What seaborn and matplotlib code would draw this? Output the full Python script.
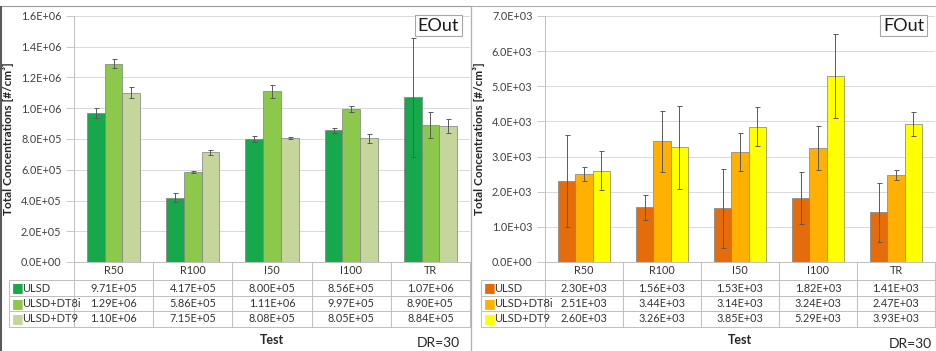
import numpy as np
import pandas as pd
import matplotlib
matplotlib.use("Agg")
import matplotlib.pyplot as plt
import seaborn as sns
from matplotlib.patches import Rectangle

# Data
tests = ["R50", "R100", "I50", "I100", "TR"]
fuels = ["ULSD", "ULSD+DT8i", "ULSD+DT9"]

eout_ulsd = [9.71e5, 4.17e5, 8.00e5, 8.56e5, 1.07e6]
eout_dt8i = [1.29e6, 5.86e5, 1.11e6, 9.97e5, 8.90e5]
eout_dt9 = [1.10e6, 7.15e5, 8.08e5, 8.05e5, 8.84e5]
eout_err_ulsd = [0.32e5, 0.30e5, 0.22e5, 0.18e5, 3.9e5]
eout_err_dt8i = [0.30e5, 0.08e5, 0.42e5, 0.20e5, 0.85e5]
eout_err_dt9 = [0.35e5, 0.16e5, 0.05e5, 0.28e5, 0.45e5]

fout_ulsd = [2.30e3, 1.56e3, 1.53e3, 1.82e3, 1.41e3]
fout_dt8i = [2.51e3, 3.44e3, 3.14e3, 3.24e3, 2.47e3]
fout_dt9 = [2.60e3, 3.26e3, 3.85e3, 5.29e3, 3.93e3]
fout_err_ulsd = [1.30e3, 0.36e3, 1.13e3, 0.75e3, 0.85e3]
fout_err_dt8i = [0.20e3, 0.87e3, 0.54e3, 0.62e3, 0.14e3]
fout_err_dt9 = [0.55e3, 1.17e3, 0.55e3, 1.20e3, 0.34e3]

green_colors = ["#17a84b", "#8cc84b", "#c4d69b"]
orange_colors = ["#e46c0a", "#ffb000", "#ffff00"]

sns.set_theme(style="white")
plt.rcParams["font.family"] = ["Lato", "DejaVu Sans"]

W, H = 937, 351
fig = plt.figure(figsize=(W / 100, H / 100), dpi=100)
TXT = "#333333"
FS = 7.8


def px_axes(x0, y0, x1, y1):
    return fig.add_axes([x0 / W, 1 - y1 / H, (x1 - x0) / W, (y1 - y0) / H])


def draw_panel(ax, values, errors, colors, ymax, ystep, title, label_w):
    df = pd.DataFrame({
        "Test": np.tile(tests, 3),
        "Fuel": np.repeat(fuels, 5),
        "Value": np.concatenate(values),
    })
    sns.barplot(data=df, x="Test", y="Value", hue="Fuel", palette=colors,
                saturation=1, width=0.67, edgecolor="#7f7f7f", linewidth=0.5,
                errorbar=None, legend=False, ax=ax, zorder=2)
    for cont, err in zip(ax.containers, errors):
        xs = [p.get_x() + p.get_width() / 2 for p in cont.patches]
        ys = [p.get_height() for p in cont.patches]
        ax.errorbar(xs, ys, yerr=err, fmt="none", ecolor="#595959",
                    elinewidth=0.7, capsize=1.8, capthick=0.7, zorder=3)

    ax.set_xlim(-0.5, 4.5)
    ax.set_ylim(0, ymax)
    ticks = np.arange(0, ymax + ystep / 2, ystep)
    ax.set_yticks(ticks)
    ax.set_yticklabels(["%.1E" % t for t in ticks], fontsize=FS, color="#404040")
    ax.yaxis.grid(True, color="#d9d9d9", linewidth=0.7, zorder=0)
    ax.set_axisbelow(True)
    ax.tick_params(axis="y", length=6, width=0.6, color="#bfbfbf", pad=3, left=True)
    ax.set_xticks([])
    ax.set_xlabel("")
    ax.set_ylabel("Total Concentrations [#/cm³]", fontsize=8.5, fontweight="bold",
                  labelpad=5, color="#262626")
    for s in ["top", "right", "bottom"]:
        ax.spines[s].set_visible(False)
    ax.spines["left"].set_color("#bfbfbf")
    ax.spines["left"].set_linewidth(0.7)

    ax.text(0.972, 0.993, title, transform=ax.transAxes, ha="right", va="top",
            fontsize=13, zorder=6, color="#1a1a1a",
            bbox=dict(boxstyle="square,pad=0.15", facecolor="white",
                      edgecolor="#a6a6a6", linewidth=0.8))

    # data table below the plot, drawn in axes coordinates
    ax_h = ax.get_position().height * H
    ax_w = ax.get_position().width * W
    edges = [0, 18, 34, 49, 65]  # pixel offsets below the axis
    ys = [-e / ax_h for e in edges]
    lx = -label_w / ax_w
    n = len(tests)
    line = dict(transform=ax.transAxes, clip_on=False, color="#bfbfbf", lw=0.7)
    ax.plot([0, 1], [0, 0], **line)
    for y in ys[1:]:
        ax.plot([lx, 1], [y, y], **line)
    ax.plot([lx, lx], [ys[1], ys[-1]], **line)
    for k in range(n + 1):
        ax.plot([k / n, k / n], [0, ys[-1]], **line)
    for j, t in enumerate(tests):
        ax.text((j + 0.5) / n, (ys[0] + ys[1]) / 2, t, transform=ax.transAxes,
                ha="center", va="center", fontsize=FS, color=TXT)
    for i, (f, vals) in enumerate(zip(fuels, values)):
        yc = (ys[i + 1] + ys[i + 2]) / 2
        ax.text(lx + 3 / ax_w, yc, "■", transform=ax.transAxes, ha="left",
                va="center", fontsize=9, color=colors[i], family="DejaVu Sans")
        ax.text(lx + 13 / ax_w, yc, f, transform=ax.transAxes, ha="left",
                va="center", fontsize=8, color=TXT)
        for j, v in enumerate(vals):
            ax.text((j + 0.5) / n, yc, "%.2E" % v, transform=ax.transAxes,
                    ha="center", va="center", fontsize=FS, color=TXT)

    ax.text(0.5, -78 / ax_h, "Test", transform=ax.transAxes, ha="center",
            va="center", fontsize=9, fontweight="bold", color="#262626")


ax1 = px_axes(74, 16, 470, 262)
draw_panel(ax1, [eout_ulsd, eout_dt8i, eout_dt9],
           [eout_err_ulsd, eout_err_dt8i, eout_err_dt9],
           green_colors, 1.6e6, 2e5, "EOut", 65)

ax2 = px_axes(545, 16, 935, 262)
draw_panel(ax2, [fout_ulsd, fout_dt8i, fout_dt9],
           [fout_err_ulsd, fout_err_dt8i, fout_err_dt9],
           orange_colors, 7.0e3, 1e3, "FOut", 64)

fig.text(460 / W, 1 - 343 / H, "DR=30", ha="right", va="center", fontsize=10,
         color="#262626")
fig.text(932 / W, 1 - 344 / H, "DR=30", ha="right", va="center", fontsize=10,
         color="#262626")

# chart area borders
fig.patches.append(Rectangle((1.5 / W, -0.01), 469.5 / W, 1 - 6 / H + 0.01,
                             transform=fig.transFigure, fill=False,
                             edgecolor="#9a9a9a", linewidth=0.8))
fig.patches.append(Rectangle((0, 0), 2 / W, 1 - 6 / H,
                             transform=fig.transFigure, color="#5a5a5a",
                             linewidth=0))
fig.patches.append(Rectangle((471 / W, -0.01), 470 / W, 1 - 6 / H + 0.01,
                             transform=fig.transFigure, fill=False,
                             edgecolor="#b0b0b0", linewidth=0.8))

fig.savefig("out.png", dpi=100)
